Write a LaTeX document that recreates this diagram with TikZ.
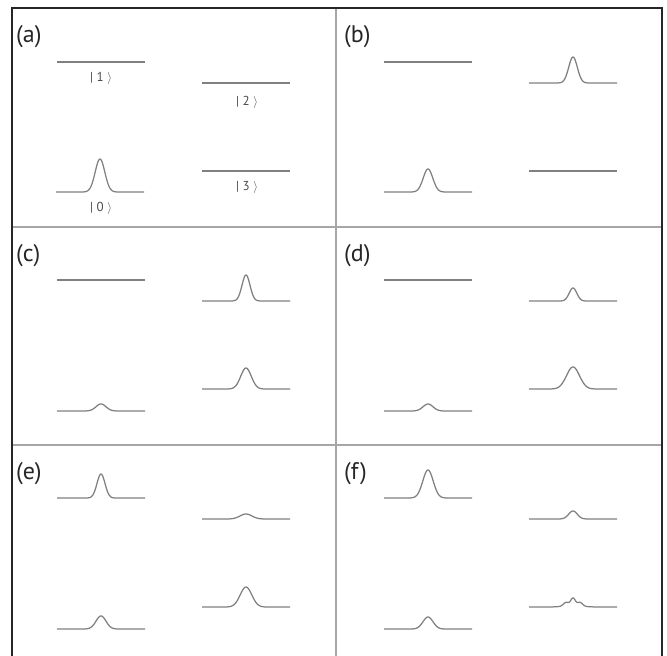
\documentclass[tikz,border=0pt]{standalone}
\usepackage{fontspec}
\setmainfont{PT Sans}
\begin{document}
\begin{tikzpicture}[x=1pt,y=-1pt,
  lvl/.style={draw=black!50,line width=1.25pt},
  frameline/.style={draw=black!85,line width=2pt},
  divline/.style={draw=black!35,line width=1.6pt},
  plabel/.style={anchor=west,inner sep=0pt,text=black!85,font=\fontsize{24}{28}\selectfont},
  ket/.style={inner sep=0pt,text=black!70,font=\fontsize{13}{15}\selectfont}]
\useasboundingbox (0,0) rectangle (667,656);
\fill[white] (0,0) rectangle (667,656);
% level with optional gaussian peak: centre x, baseline y, height, sigma
\newcommand\lvlpk[4]{\draw[lvl,line join=round] ({#1-44},#2) -- plot[domain=-22:22,samples=89] ({#1+\x},{#2-#3*exp(-(\x*\x)/(2*#4*#4))}) -- ({#1+44},#2);}
\newcommand\lvlflat[2]{\draw[lvl] ({#1-44},#2) -- ({#1+44},#2);}
\newcommand\ketlab[1]{|\hspace{3.5pt}#1\hspace{3.5pt}$\rangle$}
% dividers
\draw[divline] (336,8) -- (336,656);
\draw[divline] (12,227) -- (662,227);
\draw[divline] (12,445) -- (662,445);
% frame
\draw[frameline] (12,660) -- (12,8) -- (662,8) -- (662,660);
% labels
\node[plabel] (la) at (16,37) {(a)};
\node[plabel] (lb) at (344,37) {(b)};
\node[plabel] (lc) at (16,256) {(c)};
\node[plabel] (ld) at (344,256) {(d)};
\node[plabel] (le) at (16,474) {(e)};
\node[plabel] (lf) at (344,474) {(f)};
% (a)
\lvlflat{101}{62}
\lvlflat{246}{83}
\lvlpk{100}{192}{33}{4.8}
\lvlflat{246}{171}
\node[ket] (k1) at (101,78) {\ketlab{1}};
\node[ket] (k2) at (247,102) {\ketlab{2}};
\node[ket] (k0) at (101,208) {\ketlab{0}};
\node[ket] (k3) at (247,187) {\ketlab{3}};
% (b)
\lvlflat{428}{62}
\lvlpk{573}{83}{26}{4.3}
\lvlpk{428}{192}{23}{4.8}
\lvlflat{573}{171}
% (c)
\lvlflat{101}{280}
\lvlpk{246}{301}{26}{4}
\lvlpk{101}{411}{7}{5}
\lvlpk{246}{389}{21}{5.3}
% (d)
\lvlflat{428}{280}
\lvlpk{573}{301}{13}{3.8}
\lvlpk{428}{411}{7}{5}
\lvlpk{573}{389}{22}{6.5}
% (e)
\lvlpk{101}{498}{24}{4}
\lvlpk{246}{519}{5}{6}
\lvlpk{101}{629}{13}{5}
\lvlpk{246}{607}{20}{5.8}
% (f)
\lvlpk{428}{498}{28}{5.2}
\lvlpk{573}{519}{8}{4.3}
\lvlpk{428}{629}{12}{5}
\draw[lvl,line join=round] (529,607) -- plot[domain=-22:22,samples=89] ({573+\x},{607-7.5*exp(-(\x*\x)/(2*2.3*2.3))-3.5*exp(-((\x+7)*(\x+7))/(2*2.5*2.5))-3.5*exp(-((\x-7)*(\x-7))/(2*2.5*2.5))-1.5*exp(-(\x*\x)/(2*9*9))}) -- (617,607);
\end{tikzpicture}
\end{document}
